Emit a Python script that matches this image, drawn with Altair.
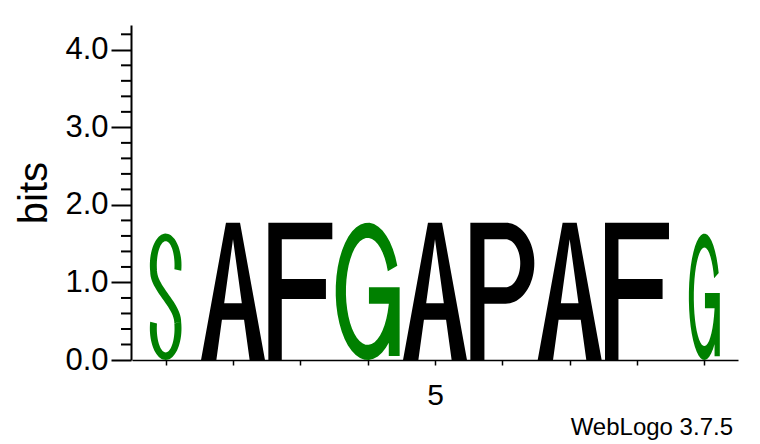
import math
import pandas as pd
import altair as alt

# sequence logo, one letter per column
POSITIONS = [1, 2, 3, 4, 5, 6, 7, 8, 9]
LETTERS = ["S", "A", "F", "G", "A", "P", "A", "F", "G"]
BITS = [1.63, 1.77, 1.77, 1.77, 1.77, 1.77, 1.77, 1.77, 1.63]
WIDTHS = [0.47, 0.95, 0.95, 0.95, 0.95, 0.95, 0.95, 0.95, 0.46]  # share of the column
MAJOR_TICKS = [0.0, 1.0, 2.0, 3.0, 4.0]
MINOR_TICKS = [0.2, 0.4, 0.6, 0.8, 1.2, 1.4, 1.6, 1.8, 2.2, 2.4, 2.6, 2.8,
               3.2, 3.4, 3.6, 3.8, 4.2]
YMAX = 4.32
W, H = 606, 335
FONT = "Liberation Sans"


def arc(cx, cy, rx, ry, t0, t1, n=40):
    pts = []
    for i in range(n + 1):
        t = math.radians(t0 + (t1 - t0) * i / n)
        pts.append((cx + rx * math.cos(t), cy - ry * math.sin(t)))
    return pts


def band(cx, cy, rxo, ryo, rxi, ryi, t0, t1):
    return arc(cx, cy, rxo, ryo, t0, t1) + arc(cx, cy, rxi, ryi, t1, t0)


def rect(u0, v0, u1, v1):
    return [(u0, v0), (u1, v0), (u1, v1), (u0, v1)]


def bezier(p0, p1, p2, p3, n=24):
    pts = []
    for i in range(n + 1):
        t = i / n
        a, b, c, d = (1 - t) ** 3, 3 * t * (1 - t) ** 2, 3 * t * t * (1 - t), t ** 3
        pts.append((a * p0[0] + b * p1[0] + c * p2[0] + d * p3[0],
                    a * p0[1] + b * p1[1] + c * p2[1] + d * p3[1]))
    return pts


def s_glyph():
    p1, p2 = (0.011, 0.302), (0.226, 0.29)
    p3, p4 = (0.989, 0.698), (0.774, 0.71)
    spine = [p1] + bezier(p2, (0.226, 0.42), (0.989, 0.55), p3) + bezier(p4, (0.774, 0.58), (0.011, 0.45), p1)
    return [(band(0.5, 0.25, 0.5, 0.25, 0.28, 0.19, -10, 192), False),
            (band(0.5, 0.75, 0.5, 0.25, 0.28, 0.19, -192, 12), False),
            (spine, False)]


GLYPHS = {
    "A": [([(0, 1), (0.39, 0), (0.61, 0), (1, 1), (0.76, 1), (0.673, 0.706), (0.327, 0.706), (0.24, 1)], False),
          ([(0.5, 0.12), (0.362, 0.586), (0.638, 0.586)], True)],
    "F": [([(0, 0), (1, 0), (1, 0.12), (0.21, 0.12), (0.21, 0.41), (0.9, 0.41), (0.9, 0.555),
            (0.21, 0.555), (0.21, 1), (0, 1)], False)],
    "P": [(rect(0, 0, 0.22, 1), False), (rect(0, 0, 0.55, 0.12), False), (rect(0, 0.47, 0.55, 0.59), False),
          (band(0.55, 0.295, 0.45, 0.295, 0.23, 0.175, -90, 90), False)],
    "G": [(band(0.5, 0.5, 0.5, 0.5, 0.34, 0.39, 22, 345), False),
          (rect(0.52, 0.47, 1, 0.59), False), (rect(0.83, 0.47, 1, 0.97), False)],
    "S": s_glyph(),
}


def glyph_path(letter, w):
    out = []
    for pts, hole in GLYPHS[letter]:
        area = sum(pts[i][0] * pts[i - 1][1] - pts[i - 1][0] * pts[i][1] for i in range(len(pts)))
        if (area < 0) != hole:
            pts = pts[::-1]
        xy = ["%.4f,%.4f" % (-w + 2 * w * u, -1 + 2 * v) for u, v in pts]
        out.append("M" + " L".join(xy) + " Z")
    return " ".join(out)


df = pd.DataFrame({"pos": POSITIONS, "letter": LETTERS, "bits": BITS, "frac": WIDTHS})
df["mid"] = df["bits"] / 2
df["sq"] = df["bits"] ** 2
col_px = W / (len(POSITIONS))
df["glyph"] = [glyph_path(l, f * col_px / (b * H / YMAX)) for l, f, b in zip(df["letter"], df["frac"], df["bits"])]

df_minor = pd.DataFrame({"mid": MINOR_TICKS})

yscale = alt.Scale(domain=[0, YMAX], nice=False)
yaxis = alt.Axis(values=MAJOR_TICKS, format=".1f", tickSize=20, title="bits", grid=False,
                 tickWidth=2, tickColor="black", domainColor="black", domainWidth=2,
                 labelFont=FONT, labelFontSize=31, labelColor="black", labelPadding=3,
                 titleFont=FONT, titleFontSize=40, titleFontWeight="normal", titleColor="black",
                 titlePadding=10, offset=1)

letters = alt.Chart(df).mark_point(filled=True, opacity=1, strokeWidth=0).encode(
    x=alt.X("pos:Q", scale=alt.Scale(domain=[0.5, 9.5], nice=False, zero=False),
            axis=alt.Axis(values=POSITIONS, labelExpr="datum.value % 5 == 0 ? datum.value : ''",
                          title=None, grid=False, tickSize=5, tickWidth=1.5, tickColor="black",
                          domainColor="black", domainWidth=1.5, labelFont=FONT, labelFontSize=30,
                          labelColor="black", labelPadding=15, labelAngle=0)),
    y=alt.Y("mid:Q", scale=yscale, axis=yaxis),
    size=alt.Size("sq:Q", scale=alt.Scale(domain=[0, YMAX ** 2], range=[0, H ** 2]), legend=None),
    shape=alt.Shape("glyph:N", scale=None),
    color=alt.Color("letter:N", scale=alt.Scale(domain=["S", "G", "A", "F", "P"],
                                                range=["green", "green", "black", "black", "black"]),
                    legend=None),
)

# short ticks between the labelled ones
minor = alt.Chart(df_minor).mark_rule(color="black", strokeWidth=2).encode(
    y=alt.Y("mid:Q", scale=yscale, axis=yaxis),
    x=alt.value(-11), x2=alt.value(-1),
)

chart = alt.layer(letters, minor).properties(
    width=W, height=H, autosize="none",
    padding={"left": 124, "top": 17, "right": 14, "bottom": 84},
    title=alt.TitleParams("WebLogo 3.7.5", orient="bottom", anchor="end", font=FONT, fontSize=24,
                          fontWeight="normal", color="black", offset=6, dx=-5),
).configure_view(stroke=None)

chart.save("out.html", embed_options={"renderer": "svg", "actions": False})
